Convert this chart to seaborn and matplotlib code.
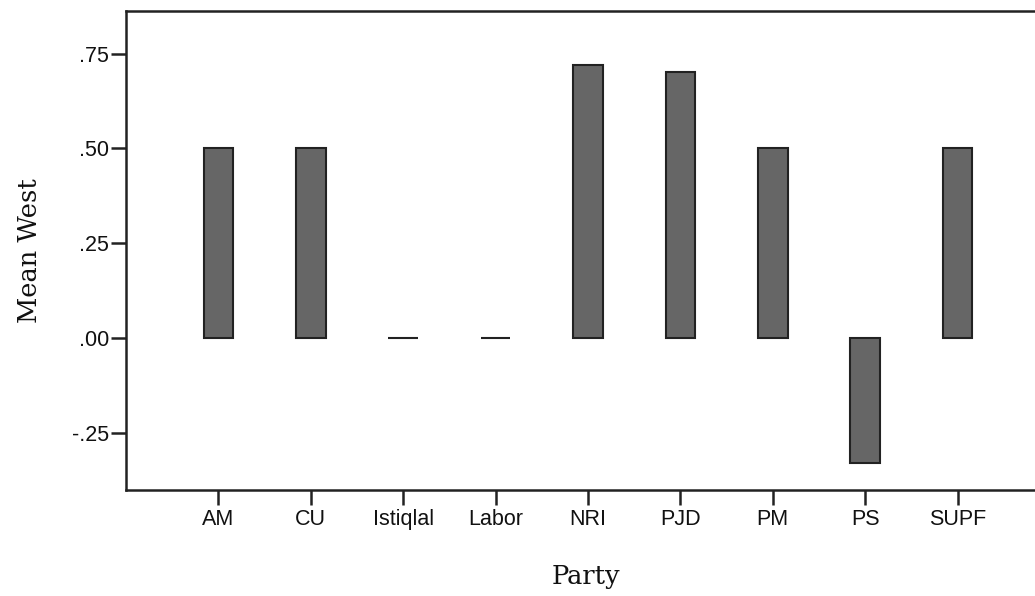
import matplotlib
matplotlib.use("Agg")
import matplotlib.pyplot as plt
import seaborn as sns
import pandas as pd

# data
parties = ["AM", "CU", "Istiqlal", "Labor", "NRI", "PJD", "PM", "PS", "SUPF"]
mean_west = [0.50, 0.50, 0.00, 0.00, 0.72, 0.70, 0.50, -0.33, 0.50]
y_ticks = [-0.25, 0.00, 0.25, 0.50, 0.75]
y_tick_labels = ["-.25", ".00", ".25", ".50", ".75"]

df = pd.DataFrame({"Party": parties, "Mean West": mean_west})

sns.set_style("white")
fig = plt.figure(figsize=(10.35, 5.96), dpi=100)
ax = fig.add_axes([126 / 1035, 1 - 490 / 596, 1 - 126 / 1035 + 0.01, (490 - 11) / 596])

sns.barplot(data=df, x="Party", y="Mean West", order=parties, color="#666666",
            saturation=1, width=0.32, edgecolor="#222222", linewidth=1.5, ax=ax)

ax.set_xlim(-1.0, 8.95)
ax.set_ylim(-0.40, 0.862)
ax.set_yticks(y_ticks)
ax.set_yticklabels(y_tick_labels)

for side in ["left", "bottom", "top"]:
    ax.spines[side].set_color("#222222")
    ax.spines[side].set_linewidth(1.8)
ax.spines["right"].set_visible(False)

ax.tick_params(axis="both", which="both", bottom=True, left=True, direction="out",
               length=11, width=1.8, color="#222222", labelsize=15.5,
               labelcolor="#111111", pad=1)
ax.tick_params(axis="x", pad=3)
for lab in ax.get_xticklabels() + ax.get_yticklabels():
    lab.set_family("Liberation Sans")

ax.set_xlabel("Party", family="DejaVu Serif", fontsize=18.5, labelpad=24, color="#111111")
ax.set_ylabel("Mean West", family="DejaVu Serif", fontsize=18.5, labelpad=22, color="#111111")

fig.savefig("out.png", dpi=100)
